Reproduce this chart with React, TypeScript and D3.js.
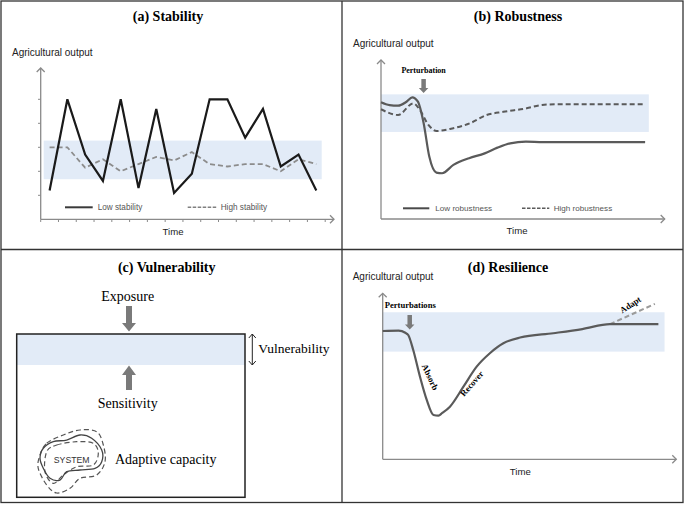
import React from 'react';
import * as d3 from 'd3';

const W = 685;
const H = 505;
const SERIF = '"Liberation Serif","Times New Roman",serif';
const SANS = '"Liberation Sans",Arial,sans-serif';
const BAND = '#e2ebf7';
const AXIS = '#8a8a8a';

// ---------- Panel (a) Stability ----------
const periods = ['1', '2', '3', '4', '5', '6', '7', '8', '9', '10', '11', '12', '13', '14', '15', '16'];
const lowStability = [1.2, 5.0, 2.7, 1.6, 5.0, 1.3, 4.6, 1.1, 1.9, 5.0, 5.0, 3.4, 4.6, 2.2, 2.7, 1.2];
const highStability = [3.0, 3.0, 2.15, 2.5, 2.0, 2.3, 2.6, 2.45, 2.8, 2.3, 2.2, 2.3, 2.3, 2.0, 2.5, 2.3];
const stabilityTicks = [1, 2, 3, 4, 5];
const stableRange = [1.67, 3.28];

// ---------- Panel (b) Robustness ----------
const lowRobustTime = [0, 3, 6, 9, 11, 13, 15, 17, 19.5, 21.5, 25.5, 31, 36.5, 41, 45.5, 51, 57, 93];
const lowRobust = [7.3, 7.12, 7.08, 7.33, 7.6, 7.33, 6.0, 3.9, 2.9, 2.86, 3.38, 3.8, 4.1, 4.46, 4.73, 4.83, 4.8, 4.8];
const highRobustTime = [0, 6, 11.4, 13.7, 16.7, 19.6, 24.3, 31.3, 37.2, 43.1, 51.3, 56.7, 61.4, 93];
const highRobust = [6.86, 6.5, 7.23, 6.81, 5.88, 5.5, 5.63, 5.98, 6.5, 6.7, 6.92, 7.13, 7.17, 7.17];
const robustRange = [5.44, 7.79];
const perturbationTimeB = 15;

// ---------- Panel (d) Resilience ----------
const resilTime = [0, 5.4, 7.7, 8.7, 10.4, 12.7, 15.0, 17.3, 19.0, 20.2, 22.9, 27.5, 32.0, 36.5, 41.1, 46.8, 58.1, 68, 77.4, 93.9];
const resilOutput = [8.02, 8.04, 7.91, 7.77, 6.83, 5.16, 3.71, 2.77, 2.73, 2.88, 3.29, 4.54, 5.79, 6.63, 7.25, 7.61, 7.88, 8.14, 8.45, 8.45];
const adaptTime = [77.4, 92.7];
const adaptOutput = [8.45, 9.71];
const resilRange = [6.73, 9.19];
const perturbationTimeD = 9.2;

// ---------- Panel (c) system blob outlines (unit box 0..100) ----------
const blobSolid: [number, number][] = [
  [7.9, 29], [22.8, 18.6], [42.8, 15.9], [62.7, 7.9], [80.1, 13.2], [95.1, 31.7], [95.1, 50.3],
  [85.1, 60.8], [62.7, 63.5], [42.8, 66.2], [32.8, 79.4], [17.9, 76.7], [7.9, 60.8], [3, 44.9],
];
const blobDashOuter: [number, number][] = [
  [3, 39.7], [13, 21.1], [37.8, 7.9], [62.7, 0], [87.6, 2.7], [97.5, 23.8], [100, 50.3],
  [87.6, 71.4], [62.7, 76.7], [47.8, 92.5], [27.9, 100], [13, 87.3], [0.4, 60.8],
];
const blobDashInner: [number, number][] = [
  [13, 34.4], [27.9, 23.8], [57.8, 18.6], [82.5, 21.1], [90, 37], [82.5, 55.6], [57.8, 58.3],
  [37.8, 71.4], [22.8, 84.6], [10.4, 66.2],
];

function blockArrow(x: number, yFrom: number, yTip: number, shaftW: number, headW: number, headL: number) {
  const dir = yTip > yFrom ? 1 : -1;
  const yBase = yTip - dir * headL;
  return `M${x - shaftW / 2},${yFrom}L${x + shaftW / 2},${yFrom}L${x + shaftW / 2},${yBase}L${x + headW / 2},${yBase}L${x},${yTip}L${x - headW / 2},${yBase}L${x - shaftW / 2},${yBase}Z`;
}

function Axes({ x0, y0, yTop, xEnd }: { x0: number; y0: number; yTop: number; xEnd: number }) {
  const a = 4;
  return (
    <g stroke={AXIS} strokeWidth={1.3} fill="none">
      <line x1={x0} y1={y0} x2={x0} y2={yTop} />
      <line x1={x0} y1={y0} x2={xEnd} y2={y0} />
      <path d={`M${x0 - a},${yTop + a}L${x0},${yTop}L${x0 + a},${yTop + a}`} />
      <path d={`M${xEnd - a},${y0 - a}L${xEnd},${y0}L${xEnd - a},${y0 + a}`} />
    </g>
  );
}

export default function App() {
  // Panel a scales
  const xA = d3.scaleBand<string>().domain(periods).range([40.7, 325.2]);
  const yA = d3.scaleLinear().domain([0, 6]).range([219.3, 75.3]);
  const cx = (p: string) => (xA(p) as number) + xA.bandwidth() / 2;
  const lineA = d3.line<number>().x((_, i) => cx(periods[i])).y((v) => yA(v));
  const tickXs = [...periods.map((p) => xA(p) as number), xA.range()[1]];

  // Panel b scales
  const xB = d3.scaleLinear().domain([0, 100]).range([381, 665]);
  const yB = d3.scaleLinear().domain([0, 10]).range([219, 59]);
  const lowB = d3.line<number>().x((_, i) => xB(lowRobustTime[i])).y((v) => yB(v)).curve(d3.curveMonotoneX);
  const highB = d3.line<number>().x((_, i) => xB(highRobustTime[i])).y((v) => yB(v)).curve(d3.curveMonotoneX);

  // Panel d scales
  const xD = d3.scaleLinear().domain([0, 100]).range([382.7, 676.3]);
  const yD = d3.scaleLinear().domain([0, 10]).range([459.3, 299.3]);
  const lineD = d3.line<number>().x((_, i) => xD(resilTime[i])).y((v) => yD(v)).curve(d3.curveMonotoneX);
  const lineAdapt = d3.line<number>().x((_, i) => xD(adaptTime[i])).y((v) => yD(v));

  // Panel c blob scales
  const bx = d3.scaleLinear().domain([0, 100]).range([38, 105]);
  const by = d3.scaleLinear().domain([0, 100]).range([430, 493]);
  const blobLine = d3.line<[number, number]>().x((d) => bx(d[0])).y((d) => by(d[1])).curve(d3.curveCardinalClosed.tension(0));

  const pbx = xB(perturbationTimeB);
  const pdx = xD(perturbationTimeD);

  return (
    <svg width={W} height={H} style={{ position: 'absolute', left: 0, top: 0, background: '#fff' }}>
      <rect x={0} y={0} width={W} height={H} fill="#fff" />

      {/* ===== Panel (a) ===== */}
      <text x={168} y={21} textAnchor="middle" fontFamily={SERIF} fontWeight="bold" fontSize={14}>(a) Stability</text>
      <text x={12} y={55.5} fontFamily={SANS} fontSize={10} fill="#222">Agricultural output</text>
      <rect x={xA.range()[0] + 3} y={yA(stableRange[1])} width={xA.range()[1] - xA.range()[0] - 6.5}
        height={yA(stableRange[0]) - yA(stableRange[1])} fill={BAND} />
      <Axes x0={40.7} y0={219.3} yTop={68} xEnd={334} />
      <g stroke={AXIS} strokeWidth={1}>
        {tickXs.map((x, i) => <line key={i} x1={x} x2={x} y1={219.3} y2={222} />)}
        {stabilityTicks.map((t) => <line key={t} x1={38} x2={40.7} y1={yA(t)} y2={yA(t)} />)}
      </g>
      <path d={lineA(highStability) || ''} fill="none" stroke="#8c8c8c" strokeWidth={1.8} strokeDasharray="5 3" />
      <path d={lineA(lowStability) || ''} fill="none" stroke="#1a1a1a" strokeWidth={2.2} strokeLinejoin="miter" />
      <line x1={65} x2={92.7} y1={207.3} y2={207.3} stroke="#3a3a3a" strokeWidth={2} />
      <text x={97.7} y={210} fontFamily={SANS} fontSize={8.2} fill="#555">Low stability</text>
      <line x1={187.7} x2={216.7} y1={207.3} y2={207.3} stroke="#808080" strokeWidth={1.6} strokeDasharray="3.5 1.5" />
      <text x={220.7} y={210} fontFamily={SANS} fontSize={8.2} fill="#555">High stability</text>
      <text x={173} y={235} textAnchor="middle" fontFamily={SANS} fontSize={9.6} fill="#222">Time</text>

      {/* ===== Panel (b) ===== */}
      <text x={518} y={21} textAnchor="middle" fontFamily={SERIF} fontWeight="bold" fontSize={14}>(b) Robustness</text>
      <text x={353} y={47} fontFamily={SANS} fontSize={10} fill="#222">Agricultural output</text>
      <rect x={xB(0)} y={yB(robustRange[1])} width={xB(94.3) - xB(0)} height={yB(robustRange[0]) - yB(robustRange[1])} fill={BAND} />
      <Axes x0={381} y0={219} yTop={60} xEnd={664.7} />
      <text x={pbx} y={72.5} textAnchor="middle" fontFamily={SERIF} fontWeight="bold" fontSize={8}>Perturbation</text>
      <path d={blockArrow(pbx, 79, 93, 4.5, 9.5, 5)} fill="#7a7a7a" />
      <path d={highB(highRobust) || ''} fill="none" stroke="#5a5a5a" strokeWidth={2} strokeDasharray="5 3" />
      <path d={lowB(lowRobust) || ''} fill="none" stroke="#5a5a5a" strokeWidth={2.2} />
      <line x1={403} x2={429.3} y1={208.3} y2={208.3} stroke="#4a4a4a" strokeWidth={2} />
      <text x={435.3} y={211} fontFamily={SANS} fontSize={8.1} fill="#555">Low robustness</text>
      <line x1={522} x2={549.3} y1={208.3} y2={208.3} stroke="#5a5a5a" strokeWidth={1.6} strokeDasharray="3.5 1.5" />
      <text x={553.7} y={211} fontFamily={SANS} fontSize={8.1} fill="#555">High robustness</text>
      <text x={517} y={234.3} textAnchor="middle" fontFamily={SANS} fontSize={9.6} fill="#222">Time</text>

      {/* ===== Panel (c) ===== */}
      <text x={166.7} y={272} textAnchor="middle" fontFamily={SERIF} fontWeight="bold" fontSize={14}>(c) Vulnerability</text>
      <text x={127.7} y={300.5} textAnchor="middle" fontFamily={SERIF} fontSize={14}>Exposure</text>
      <path d={blockArrow(129, 306, 331.5, 6, 14, 8.5)} fill="#7a7a7a" />
      <rect x={16.7} y={334} width={228.3} height={31} fill={BAND} />
      <rect x={16.7} y={334} width={228.3} height={163.3} fill="none" stroke="#222" strokeWidth={1.5} />
      <path d={blockArrow(129, 390, 365.5, 6, 14, 9.5)} fill="#7a7a7a" />
      <text x={127.7} y={408} textAnchor="middle" fontFamily={SERIF} fontSize={14}>Sensitivity</text>
      <g stroke="#222" strokeWidth={1} fill="none">
        <line x1={252.3} x2={252.3} y1={334} y2={365} />
        <path d="M248.8,338L252.3,334L255.8,338" />
        <path d="M248.8,361L252.3,365L255.8,361" />
      </g>
      <text x={258.3} y={353} fontFamily={SERIF} fontSize={13.5}>Vulnerability</text>
      <path d={blobLine(blobDashOuter) || ''} fill="none" stroke="#555" strokeWidth={1.2} strokeDasharray="5 3" />
      <path d={blobLine(blobDashInner) || ''} fill="none" stroke="#555" strokeWidth={1.2} strokeDasharray="5 3" />
      <path d={blobLine(blobSolid) || ''} fill="none" stroke="#444" strokeWidth={1.3} />
      <text x={71.7} y={463} textAnchor="middle" fontFamily={SANS} fontSize={8.7} fill="#333">SYSTEM</text>
      <text x={115} y={463.5} fontFamily={SERIF} fontSize={14}>Adaptive capacity</text>

      {/* ===== Panel (d) ===== */}
      <text x={508} y={272} textAnchor="middle" fontFamily={SERIF} fontWeight="bold" fontSize={14}>(d) Resilience</text>
      <text x={352.7} y={280} fontFamily={SANS} fontSize={10} fill="#222">Agricultural output</text>
      <rect x={xD(0)} y={yD(resilRange[1])} width={xD(96) - xD(0)} height={yD(resilRange[0]) - yD(resilRange[1])} fill={BAND} />
      <Axes x0={382.7} y0={459.3} yTop={293.3} xEnd={676.3} />
      <text x={384.7} y={308} fontFamily={SERIF} fontWeight="bold" fontSize={8.6}>Perturbations</text>
      <path d={blockArrow(pdx, 315, 329.5, 4.5, 9.5, 5)} fill="#7a7a7a" />
      <path d={lineAdapt(adaptOutput) || ''} fill="none" stroke="#9a9a9a" strokeWidth={2} strokeDasharray="5 3" />
      <path d={lineD(resilOutput) || ''} fill="none" stroke="#5a5a5a" strokeWidth={2.2} />
      <text transform={`translate(429.2,377.5) rotate(65)`} textAnchor="middle" dominantBaseline="middle"
        fontFamily={SERIF} fontWeight="bold" fontSize={8.7}>Absorb</text>
      <text transform={`translate(472.5,384.2) rotate(-49)`} textAnchor="middle" dominantBaseline="middle"
        fontFamily={SERIF} fontWeight="bold" fontSize={8.7}>Recover</text>
      <text transform={`translate(631,305.5) rotate(-33)`} textAnchor="middle" dominantBaseline="middle"
        fontFamily={SERIF} fontWeight="bold" fontSize={8.7}>Adapt</text>
      <text x={520.3} y={475} textAnchor="middle" fontFamily={SANS} fontSize={9.6} fill="#222">Time</text>

      {/* ===== Frame ===== */}
      <g stroke="#333" strokeWidth={1.3} fill="none">
        <rect x={1} y={1} width={682} height={501.5} />
        <line x1={342} x2={342} y1={1} y2={502.5} />
        <line x1={1} x2={683} y1={249.5} y2={249.5} />
      </g>
    </svg>
  );
}
